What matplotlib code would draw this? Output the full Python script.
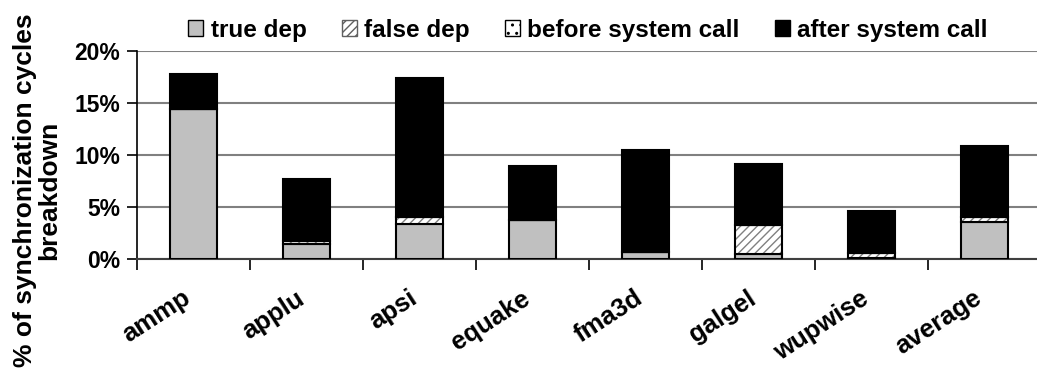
import numpy as np
import matplotlib.pyplot as plt
from matplotlib.patches import Patch

plt.rcParams['font.family'] = ['Liberation Sans', 'DejaVu Sans']
plt.rcParams['font.weight'] = 'bold'
plt.rcParams['hatch.linewidth'] = 1.0

# data (percent of cycles)
benchmarks = ["ammp", "applu", "apsi", "equake", "fma3d", "galgel", "wupwise", "average"]
true_dep = [14.4, 1.4, 3.4, 3.7, 0.7, 0.5, 0.05, 3.55]
false_dep = [0.0, 0.3, 0.6, 0.0, 0.0, 2.8, 0.5, 0.45]
before_call = [0.0, 0.0, 0.0, 0.0, 0.0, 0.0, 0.0, 0.0]
after_call = [3.3, 6.0, 13.35, 5.25, 9.75, 5.8, 4.1, 6.85]
yticks = [0, 5, 10, 15, 20]
ytick_labels = ["0%", "5%", "10%", "15%", "20%"]

x = np.arange(len(benchmarks))
w = 0.41

fig = plt.figure(figsize=(10.37, 3.69), dpi=100)
ax = fig.add_axes([137 / 1037, 110 / 369, (1041 - 137) / 1037, 208.5 / 369])

b1 = np.array(true_dep)
b2 = b1 + np.array(false_dep)
b3 = b2 + np.array(before_call)

ax.bar(x, true_dep, w, color="#c0c0c0", edgecolor="black", linewidth=1.5, zorder=3)
ax.bar(x, false_dep, w, bottom=b1, color="white", edgecolor="#808080", hatch="////",
       linewidth=0, zorder=3)
ax.bar(x, false_dep, w, bottom=b1, fill=False, edgecolor="black", linewidth=1.5, zorder=4)
ax.bar(x, before_call, w, bottom=b2, color="white", edgecolor="black", hatch="..",
       linewidth=1.5, zorder=3)
ax.bar(x, after_call, w, bottom=b3, color="black", edgecolor="black", linewidth=1.5, zorder=3)

ax.set_xlim(-0.5, 7.5)
ax.set_ylim(0, 20)
ax.set_yticks(yticks)
ax.set_yticklabels(ytick_labels, fontsize=16.5)
ax.yaxis.grid(True, color="#808080", linewidth=1.5, zorder=0)
ax.set_axisbelow(True)

ax.set_xticks(x - 0.5)
ax.set_xticklabels([])
ax.tick_params(axis="x", length=8, width=1.2, direction="out")
ax.tick_params(axis="y", length=7, width=1.2, direction="out", pad=5)
for xi, name in zip(x, benchmarks):
    ax.text(xi - 0.1, -2.6, name, rotation=33, ha="right", va="top",
            rotation_mode="anchor", fontsize=18.5, fontweight="bold")

for s in ["top", "right"]:
    ax.spines[s].set_visible(False)
ax.spines["left"].set_linewidth(1.2)
ax.spines["bottom"].set_linewidth(1.5)
ax.spines["bottom"].set_color("#404040")

fig.text(37 / 1037, 1 - 190 / 369, "% of synchronization cycles\nbreakdown", rotation=90,
         ha="center", va="center", multialignment="center", fontsize=19,
         fontweight="bold", linespacing=1.0)

handles = [
    Patch(facecolor="#c0c0c0", edgecolor="black", label="true dep"),
    Patch(facecolor="white", edgecolor="#606060", hatch="////", label="false dep"),
    Patch(facecolor="white", edgecolor="black", hatch="..", label="before system call"),
    Patch(facecolor="black", edgecolor="black", label="after system call"),
]
leg = fig.legend(handles=handles, loc="center", bbox_to_anchor=(588 / 1037, 1 - 30 / 369),
                 ncol=4, fontsize=17.5, frameon=True, handlelength=0.62, handleheight=0.62,
                 handletextpad=0.3, columnspacing=1.45, borderpad=0.2)
leg.get_frame().set_edgecolor("white")
leg.get_frame().set_facecolor("white")
leg.get_frame().set_alpha(1)

fig.savefig("out.png", dpi=100)
